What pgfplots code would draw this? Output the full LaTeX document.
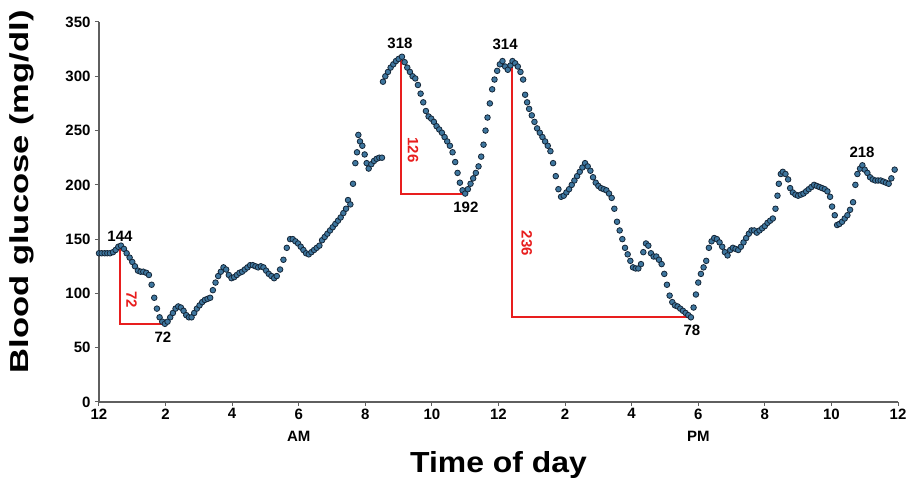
\documentclass[border=0pt]{standalone}
\usepackage{pgfplots}
\usepackage{graphicx}
\pgfplotsset{compat=1.18}
\usepackage{fontspec}
\setmainfont{Liberation Sans}
\definecolor{dotblue}{RGB}{62,118,158}
\definecolor{dotdark}{RGB}{20,38,56}
\definecolor{annred}{RGB}{232,30,30}
\definecolor{axgray}{RGB}{95,95,95}
\begin{document}
\begin{tikzpicture}
\useasboundingbox (-99pt,-84pt) rectangle (812pt,402pt);
\begin{axis}[
  at={(0,0)}, anchor=south west,
  scale only axis, width=799pt, height=380pt,
  xmin=0, xmax=24, ymin=0, ymax=350,
  xtick={0,2,...,24},
  xticklabels={12,2,4,6,8,10,12,2,4,6,8,10,12},
  ytick={0,50,...,350},
  axis x line*=bottom, axis y line*=left,
  axis line style={axgray, line width=1.3pt},
  tick align=outside, major tick length=4pt,
  tick style={axgray, line width=1pt},
  /pgf/number format/assume math mode=true,
  ticklabel style={font=\fontsize{15}{15}\selectfont\bfseries},
  yticklabel style={xshift=-1pt},
  xticklabel style={yshift=1pt},
  xlabel={\scalebox{1.1}[1]{Time of day}},
  xlabel style={at={(axis description cs:0.5,-0.166)}, anchor=center, font=\fontsize{29}{29}\selectfont\bfseries},
  ylabel={\scalebox{1.33}[1]{Blood glucose (mg/dl)}},
  ylabel style={at={(axis description cs:-0.0964,0.553)}, anchor=center, font=\fontsize{26}{26}\selectfont\bfseries},
  clip=false,
]
\addplot[only marks, mark=*, mark size=2.8pt, mark options={fill=dotblue, draw=dotdark, line width=0.8pt}] table {
x y
0.00 137
0.08 137
0.17 137
0.25 137
0.33 137
0.42 138
0.50 140
0.58 143
0.66 144
0.75 141
0.83 137
0.92 133
1.00 129
1.08 125
1.17 121
1.25 120
1.33 120
1.42 119
1.50 117
1.58 108
1.66 96
1.74 86
1.82 78
1.90 74
1.98 72
2.06 74
2.14 78
2.22 82
2.30 86
2.38 88
2.46 87
2.54 84
2.62 80
2.70 78
2.78 78
2.86 82
2.94 86
3.02 89
3.10 92
3.18 94
3.26 95
3.34 96
3.42 103
3.50 110
3.58 116
3.66 120
3.74 124
3.82 122
3.90 117
3.98 114
4.06 115
4.14 117
4.22 119
4.30 120
4.38 122
4.46 124
4.54 126
4.62 126
4.70 125
4.78 124
4.86 125
4.94 124
5.02 121
5.10 118
5.18 116
5.26 114
5.34 116
5.44 122
5.54 131
5.64 142
5.74 150
5.82 150
5.90 148
5.98 146
6.06 143
6.14 140
6.22 137
6.30 136
6.38 138
6.46 140
6.54 142
6.62 144
6.70 149
6.78 152
6.86 155
6.94 158
7.02 161
7.10 164
7.18 167
7.26 170
7.34 174
7.42 178
7.48 186
7.55 182
7.63 201
7.70 220
7.75 230
7.79 246
7.84 240
7.91 236
7.98 228
8.04 220
8.10 215
8.18 219
8.26 222
8.34 224
8.42 225
8.50 225
8.53 295
8.60 300
8.68 304
8.76 308
8.84 311
8.92 314
9.00 316
9.10 318
9.18 313
9.26 308
9.34 304
9.42 300
9.50 298
9.58 292
9.66 284
9.74 276
9.82 268
9.90 263
9.98 261
10.06 258
10.14 254
10.22 251
10.30 248
10.38 244
10.46 240
10.54 236
10.62 230
10.70 221
10.77 211
10.84 202
10.92 195
11.00 192
11.08 196
11.16 201
11.24 206
11.32 211
11.40 217
11.48 226
11.55 237
11.61 250
11.67 262
11.74 275
11.81 288
11.88 297
11.96 305
12.04 311
12.12 314
12.20 309
12.28 306
12.36 310
12.42 314
12.50 312
12.58 309
12.66 304
12.74 297
12.80 283
12.86 276
12.92 270
13.00 264
13.08 258
13.16 252
13.24 248
13.32 244
13.40 240
13.48 236
13.56 231
13.64 220
13.72 208
13.80 196
13.88 189
13.96 190
14.04 193
14.12 196
14.20 200
14.28 204
14.36 208
14.44 212
14.52 216
14.60 220
14.68 217
14.76 213
14.84 207
14.92 202
15.00 199
15.08 197
15.16 196
15.24 195
15.32 192
15.40 188
15.48 178
15.56 166
15.64 158
15.72 150
15.80 142
15.88 136
15.96 130
16.04 124
16.12 123
16.20 123
16.28 127
16.35 138
16.43 146
16.50 144
16.58 137
16.66 134
16.74 134
16.82 131
16.90 127
16.98 118
17.06 108
17.14 98
17.22 92
17.30 89
17.38 88
17.46 86
17.54 84
17.62 82
17.70 80
17.78 78
17.86 87
17.93 99
18.00 110
18.08 118
18.16 124
18.24 130
18.32 142
18.40 148
18.48 151
18.56 150
18.64 147
18.72 143
18.80 138
18.88 135
18.96 140
19.04 142
19.12 141
19.20 140
19.28 143
19.36 147
19.44 151
19.52 155
19.60 158
19.68 158
19.76 156
19.84 158
19.92 160
20.00 162
20.08 165
20.16 167
20.24 169
20.32 178
20.38 190
20.42 201
20.48 210
20.54 212
20.62 210
20.70 205
20.76 197
20.84 193
20.92 191
21.00 190
21.08 191
21.16 192
21.24 194
21.32 196
21.40 198
21.48 200
21.56 199
21.64 198
21.72 197
21.80 196
21.88 194
21.96 189
22.02 180
22.10 172
22.17 163
22.24 164
22.32 166
22.40 169
22.48 172
22.56 177
22.65 184
22.72 200
22.78 210
22.86 215
22.93 218
23.00 214
23.08 211
23.16 207
23.24 205
23.32 204
23.40 204
23.48 204
23.56 203
23.64 202
23.72 201
23.80 206
23.90 214
};
% annotations (drop lines)
\addplot[annred, line width=2pt, no marks, line join=miter] coordinates {(0.63,144) (0.63,72) (1.98,72)};
\addplot[annred, line width=2pt, no marks, line join=miter] coordinates {(9.08,318) (9.08,192) (11.0,192)};
\addplot[annred, line width=2pt, no marks, line join=miter] coordinates {(12.4,314) (12.4,78) (17.78,78)};
\begin{scope}[every node/.style={font=\fontsize{15}{15}\selectfont\bfseries, inner sep=0pt}]
\node at (axis cs:0.63,152.5) {144};
\node at (axis cs:1.92,60) {72};
\node at (axis cs:9.04,330.5) {318};
\node at (axis cs:11.02,179) {192};
\node at (axis cs:12.2,329) {314};
\node at (axis cs:17.81,66) {78};
\node at (axis cs:22.92,230) {218};
\node at (axis cs:6,-32) {AM};
\node at (axis cs:18,-32) {PM};
\end{scope}
\begin{scope}[every node/.style={font=\fontsize{15}{15}\selectfont\bfseries, inner sep=0pt, text=annred, rotate=-90}]
\node at (axis cs:0.98,94) {72};
\node at (axis cs:9.43,232) {126};
\node at (axis cs:12.85,146) {236};
\end{scope}
\end{axis}
\end{tikzpicture}
\end{document}
